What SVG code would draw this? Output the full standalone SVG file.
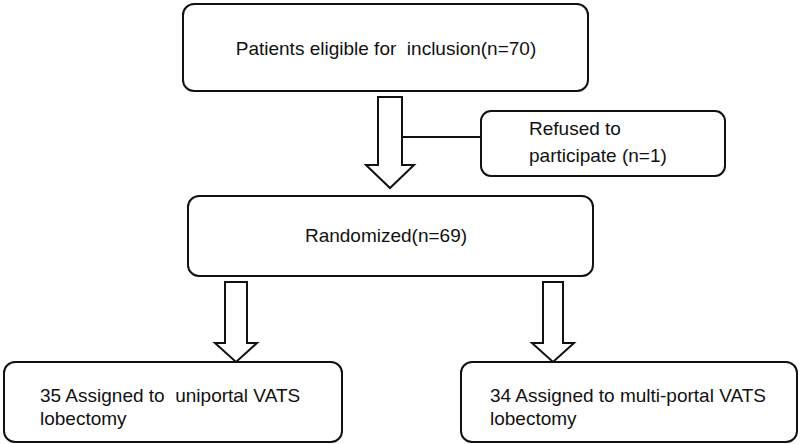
<svg xmlns="http://www.w3.org/2000/svg" width="800" height="444" viewBox="0 0 800 444">
<style>
.box{fill:#fff;stroke:#111;stroke-width:2}
.arr{fill:#fff;stroke:#111;stroke-width:2;stroke-linejoin:miter}
.ln{stroke:#111;stroke-width:2;fill:none}
text{font-family:"Liberation Sans",Arial,sans-serif;font-size:19px;fill:#111;white-space:pre}
</style>
<rect width="800" height="444" fill="#fff"/>
<g id="connectors">
<line class="ln" x1="402" y1="137" x2="481" y2="137"/>
<path class="arr" d="M378,97 H402 V165 H414 L390,188 L366,165 H378 Z"/>
<path class="arr" d="M225,282 H247 V343 H257 L236,362 L215,343 H225 Z"/>
<path class="arr" d="M543,282 H563 V343 H574 L553,362 L532,343 H543 Z"/>
</g>
<g id="n_eligible">
<rect class="box" x="183" y="4" width="405" height="87" rx="11"/>
<text x="386" y="55" text-anchor="middle" xml:space="preserve">Patients eligible for  inclusion(n=70)</text>
</g>
<g id="n_refused">
<rect class="box" x="481" y="111" width="244" height="65" rx="10"/>
<text x="529" y="135">Refused to</text>
<text x="529" y="162">participate (n=1)</text>
</g>
<g id="n_random">
<rect class="box" x="188" y="196" width="405" height="80" rx="11"/>
<text x="386" y="242" text-anchor="middle">Randomized(n=69)</text>
</g>
<g id="n_uniportal">
<rect class="box" x="4" y="362" width="338" height="80" rx="11"/>
<text x="40" y="402" xml:space="preserve">35 Assigned to  uniportal VATS</text>
<text x="40" y="425">lobectomy</text>
</g>
<g id="n_multiportal">
<rect class="box" x="461" y="362" width="336" height="80" rx="11"/>
<text x="490" y="402">34 Assigned to multi-portal VATS</text>
<text x="490" y="425">lobectomy</text>
</g>
</svg>
